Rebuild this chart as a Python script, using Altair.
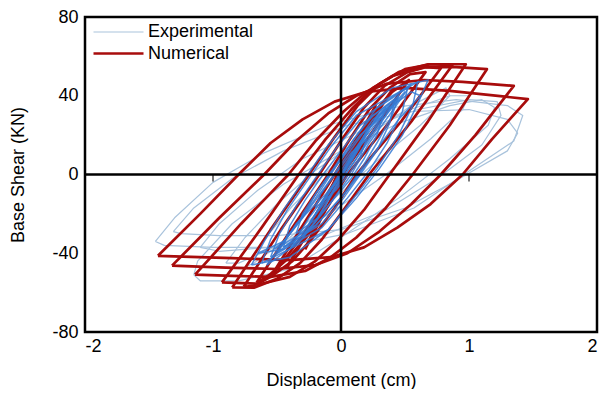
import altair as alt
import pandas as pd

# ---------------- Numerical loops (x = displacement cm, y = base shear kN) ----------------
num_a_x = [-1.43, -1.10, -0.80, -0.55, -0.30, -0.05, 0.20, 0.50, 0.85, 1.46, 1.18, 0.95, 0.70, 0.44, 0.18, -0.08, -0.40, -0.85, -1.43]
num_a_y = [-41.3, -20, 0, 16, 28, 37, 42, 44, 42.5, 38.3, 18, 0, -15, -27, -37, -42, -43.5, -42.5, -41.3]
num_b_x = [-1.32, -0.95, -0.60, -0.35, -0.10, 0.12, 0.35, 0.65, 0.95, 1.35, 1.05, 0.78, 0.55, 0.30, 0.05, -0.20, -0.50, -0.90, -1.32]
num_b_y = [-46.3, -22, 0, 17, 31, 40, 46, 48, 47, 45, 20, 0, -15, -29, -40, -46, -48, -47.3, -46.3]
num_c_x = [-1.14, -0.78, -0.41, -0.20, 0.02, 0.20, 0.40, 0.65, 0.90, 1.14, 0.85, 0.56, 0.35, 0.12, -0.08, -0.28, -0.55, -0.85, -1.14]
num_c_y = [-50.9, -25, 0, 17, 32, 42, 50, 54.5, 54.5, 53.5, 25, 0, -17, -32, -42, -49, -52, -51.5, -50.9]
num_d_x = [-0.93, -0.62, -0.33, -0.12, 0.08, 0.25, 0.45, 0.68, 0.975, 0.68, 0.38, 0.18, -0.02, -0.20, -0.40, -0.62, -0.93]
num_d_y = [-54.8, -27, 0, 18, 33, 44, 52, 56, 56, 27, 0, -18, -33, -44, -52, -55.5, -54.8]
num_e_x = [-0.85, -0.55, -0.25, -0.05, 0.13, 0.30, 0.50, 0.70, 0.87, 0.55, 0.22, 0.02, -0.15, -0.32, -0.50, -0.68, -0.85]
num_e_y = [-57.4, -28, 0, 19, 35, 46, 53.5, 56, 55.5, 27, 0, -18, -33, -45, -53, -57.5, -57.4]
num_f_x = [-0.76, -0.47, -0.17, 0.01, 0.18, 0.34, 0.52, 0.66, 0.78, 0.47, 0.12, -0.05, -0.22, -0.38, -0.55, -0.68, -0.76]
num_f_y = [-57, -28, 0, 18, 34, 45, 52, 54.5, 54, 27, 0, -17, -32, -44, -52, -56.5, -57]
num_g_x = [-0.66, -0.38, -0.10, 0.06, 0.22, 0.38, 0.54, 0.66, 0.37, 0.05, -0.10, -0.26, -0.42, -0.56, -0.66]
num_g_y = [-55, -27, 0, 17, 33, 44, 51, 52, 26, 0, -16, -31, -43, -51, -55]
num_h_x = [-0.55, -0.30, -0.05, 0.10, 0.25, 0.40, 0.53, 0.27, 0.01, -0.14, -0.29, -0.44, -0.55]
num_h_y = [-52, -26, 0, 16, 31, 42, 48, 24, 0, -15, -30, -43, -52]
num_i_x = [-0.42, -0.20, -0.01, 0.13, 0.27, 0.40, 0.18, -0.02, -0.15, -0.29, -0.42]
num_i_y = [-47, -23, 0, 16, 31, 43, 21, 0, -15, -32, -47]
num_j_x = [-0.28, -0.12, 0.02, 0.15, 0.27, 0.10, -0.03, -0.15, -0.28]
num_j_y = [-38, -18, 0, 18, 35, 15, 0, -19, -38]

# ---------------- Experimental: outer (thin light) loops ----------------
exp_1_x = [-1.45, -1.30, -1.00, -0.60, -0.10, 0.40, 0.90, 1.30, 1.42, 1.35, 0.96, 0.57, 0.05, -0.50, -1.00, -1.38, -1.45]
exp_1_y = [-34, -22, -4, 11, 25, 34, 38, 35, 30, 17, 0, -17, -30, -37, -37, -36, -34]
exp_2_x = [-1.31, -1.15, -0.85, -0.45, 0.05, 0.55, 1.00, 1.30, 1.38, 1.30, 0.90, 0.50, 0.00, -0.50, -0.95, -1.25, -1.31]
exp_2_y = [-29, -17, -2, 12, 25, 32, 33, 28, 21, 12, -3, -17, -28, -31, -31, -30, -29]
exp_3_x = [-1.15, -1.12, -0.85, -0.45, 0.00, 0.45, 0.85, 1.10, 1.20, 1.15, 0.85, 0.45, 0.00, -0.40, -0.80, -1.10, -1.15]
exp_3_y = [-51, -44, -25, -5, 12, 26, 35, 38, 34, 25, 8, -12, -32, -48, -54, -54, -51]
exp_4_x = [-1.10, -0.95, -0.65, -0.30, 0.15, 0.60, 1.00, 1.22, 1.25, 1.10, 0.75, 0.35, -0.10, -0.55, -0.95, -1.10]
exp_4_y = [-37, -25, -8, 8, 22, 33, 38, 37, 30, 15, -2, -18, -30, -37, -39, -37]
exp_5_x = [-0.90, -0.75, -0.50, -0.20, 0.15, 0.50, 0.85, 1.00, 0.95, 0.70, 0.35, -0.05, -0.45, -0.80, -0.90]
exp_5_y = [-45, -32, -15, 2, 18, 32, 40, 40, 33, 18, 0, -18, -35, -45, -45]
exp_6_x = [-0.75, -0.60, -0.38, -0.10, 0.22, 0.55, 0.82, 0.85, 0.62, 0.30, -0.05, -0.40, -0.68, -0.75]
exp_6_y = [-47, -33, -16, 2, 20, 35, 44, 40, 25, 8, -12, -32, -45, -47]

# ---------------- Experimental: dense core cycles ----------------
core_1_x = [-0.20, -0.16, -0.08, 0.00, 0.08, 0.20, 0.15, 0.06, -0.04, -0.20]
core_1_y = [-17, -10, -3, 4, 11, 18, 9, 0, -8, -17]
core_2_x = [-0.35, -0.30, -0.20, -0.09, 0.03, 0.15, 0.33, 0.28, 0.18, 0.08, -0.05, -0.18, -0.35]
core_2_y = [-30, -20, -10, 0, 10, 20, 30, 20, 8, -2, -12, -22, -30]
core_3_x = [-0.45, -0.40, -0.28, -0.14, 0.00, 0.15, 0.42, 0.38, 0.28, 0.15, 0.02, -0.15, -0.45]
core_3_y = [-37, -26, -13, 0, 12, 25, 38, 26, 12, 0, -12, -25, -37]
core_4_x = [-0.55, -0.48, -0.35, -0.18, -0.03, 0.15, 0.52, 0.48, 0.36, 0.22, 0.05, -0.15, -0.55]
core_4_y = [-42, -30, -16, 0, 14, 28, 44, 32, 16, 2, -12, -27, -42]
core_5_x = [-0.62, -0.55, -0.42, -0.25, -0.08, 0.12, 0.60, 0.56, 0.45, 0.28, 0.10, -0.10, -0.62]
core_5_y = [-45, -33, -18, -2, 14, 30, 47, 35, 20, 3, -12, -28, -45]
core_6_x = [-0.70, -0.60, -0.45, -0.28, -0.10, 0.12, 0.40, 0.68, 0.60, 0.48, 0.30, 0.12, -0.10, -0.40, -0.70]
core_6_y = [-46, -34, -18, -2, 15, 32, 44, 48, 36, 20, 3, -12, -28, -42, -46]
core_7_x = [-0.50, -0.35, -0.12, 0.00, 0.10, 0.30, 0.50, 0.35, 0.12, 0.00, -0.10, -0.28, -0.50]
core_7_y = [-40, -25, -10, 0, 12, 28, 42, 30, 12, 0, -10, -28, -40]
core_8_x = [-0.40, -0.25, -0.05, 0.05, 0.20, 0.45, 0.30, 0.12, -0.04, -0.20, -0.40]
core_8_y = [-38, -22, -5, 5, 22, 40, 25, 8, -6, -24, -38]
core_9_x = [-0.65, -0.45, -0.30, -0.12, 0.05, 0.25, 0.55, 0.62, 0.45, 0.25, 0.05, -0.20, -0.45, -0.65]
core_9_y = [-40, -34, -22, -6, 10, 28, 42, 40, 28, 10, -8, -26, -38, -40]
core_10_x = [-0.30, -0.18, -0.04, 0.08, 0.22, 0.38, 0.25, 0.10, -0.05, -0.18, -0.30]
core_10_y = [-32, -18, -4, 8, 24, 36, 22, 6, -8, -22, -32]
core_11_x = [-0.58, -0.40, -0.22, -0.08, 0.08, 0.28, 0.55, 0.42, 0.22, 0.08, -0.10, -0.32, -0.58]
core_11_y = [-46, -30, -14, 0, 16, 34, 46, 34, 16, 0, -16, -34, -46]
core_12_x = [-0.15, -0.05, 0.05, 0.15, 0.06, -0.04, -0.15]
core_12_y = [-14, -5, 5, 14, 4, -4, -14]
core_13_x = [-0.52, -0.42, -0.30, -0.20, -0.05, 0.10, 0.25, 0.45, 0.40, 0.28, 0.15, 0.00, -0.20, -0.52]
core_13_y = [-38, -32, -22, -10, 4, 18, 30, 40, 30, 16, 2, -12, -26, -38]
core_14_x = [-0.25, -0.12, 0.00, 0.10, 0.25, 0.35, 0.28, 0.18, 0.05, -0.10, -0.25]
core_14_y = [-25, -12, 2, 12, 26, 34, 30, 18, 4, -12, -25]

x_ticks = [-2, -1, 0, 1, 2]
y_ticks = [-80, -40, 0, 40, 80]
zero_tick_x = [-1, 1]
series_names = ["Experimental", "Numerical"]
series_colors = ["#a9c3dc", "#a80c0c"]
series_widths = [1.2, 2.7]
core_color = "#3479d4"

FONT = "Liberation Sans"


def build(loops, series):
    rows = []
    for name, xs, ys in loops:
        for i, (xv, yv) in enumerate(zip(xs, ys)):
            rows.append({"loop": name, "i": i, "x": xv, "y": yv, "series": series})
    return pd.DataFrame(rows)


num_df = build([
    ("na", num_a_x, num_a_y), ("nb", num_b_x, num_b_y), ("nc", num_c_x, num_c_y),
    ("nd", num_d_x, num_d_y), ("ne", num_e_x, num_e_y), ("nf", num_f_x, num_f_y),
    ("ng", num_g_x, num_g_y), ("nh", num_h_x, num_h_y), ("ni", num_i_x, num_i_y),
    ("nj", num_j_x, num_j_y)], "Numerical")
exp_df = build([
    ("e1", exp_1_x, exp_1_y), ("e2", exp_2_x, exp_2_y), ("e3", exp_3_x, exp_3_y),
    ("e4", exp_4_x, exp_4_y), ("e5", exp_5_x, exp_5_y), ("e6", exp_6_x, exp_6_y)], "Experimental")
core_df = build([
    ("c1", core_1_x, core_1_y), ("c2", core_2_x, core_2_y), ("c3", core_3_x, core_3_y),
    ("c4", core_4_x, core_4_y), ("c5", core_5_x, core_5_y), ("c6", core_6_x, core_6_y),
    ("c7", core_7_x, core_7_y), ("c8", core_8_x, core_8_y), ("c9", core_9_x, core_9_y),
    ("c10", core_10_x, core_10_y), ("c11", core_11_x, core_11_y), ("c12", core_12_x, core_12_y),
    ("c13", core_13_x, core_13_y), ("c14", core_14_x, core_14_y)], "Core")

xscale = alt.Scale(domain=[-2, 2], nice=False, zero=False)
yscale = alt.Scale(domain=[-80, 80], nice=False, zero=False)
x_enc = alt.X("x:Q", scale=xscale,
              axis=alt.Axis(values=x_ticks, title="Displacement (cm)", labelPadding=5,
                            titlePadding=16, labelExpr="'' + datum.value"))
y_enc = alt.Y("y:Q", scale=yscale,
              axis=alt.Axis(values=y_ticks, title="Base Shear (KN)", labelPadding=7,
                            titlePadding=24, labelExpr="'' + datum.value"))

leg = alt.Legend(title=None, orient="none", legendX=22, legendY=4, symbolType="M-2.5,0H2.5",
                 symbolSize=400, labelFontSize=18, labelFont=FONT, labelColor="black",
                 labelOffset=18, rowPadding=1)
color_enc = alt.Color("series:N", scale=alt.Scale(domain=series_names, range=series_colors), legend=leg)
width_enc = alt.StrokeWidth("series:N", scale=alt.Scale(domain=series_names, range=series_widths), legend=leg)

exp_layer = alt.Chart(exp_df).mark_line(strokeJoin="round").encode(
    x=x_enc, y=y_enc, detail="loop:N", order="i:Q", color=color_enc, strokeWidth=width_enc)
core_layer = alt.Chart(core_df).mark_line(color=core_color, strokeWidth=1.5, opacity=0.85).encode(
    x="x:Q", y="y:Q", detail="loop:N", order="i:Q")
num_layer = alt.Chart(num_df).mark_line(strokeJoin="round").encode(
    x="x:Q", y="y:Q", detail="loop:N", order="i:Q", color=color_enc, strokeWidth=width_enc)

vzero = alt.Chart(pd.DataFrame({"x": [0]})).mark_rule(color="black", strokeWidth=2.5).encode(x="x:Q")
hzero = alt.Chart(pd.DataFrame({"y": [0]})).mark_rule(color="black", strokeWidth=2.5).encode(y="y:Q")
ticks = alt.Chart(pd.DataFrame({"x": zero_tick_x})).mark_tick(
    orient="vertical", color="black", thickness=1.5, size=7, yOffset=3.5).encode(
    x="x:Q", y=alt.datum(0))

chart = alt.layer(exp_layer, num_layer, core_layer, vzero, hzero, ticks).properties(
    width=512, height=315, autosize="none",
    padding={"left": 77, "top": 9, "right": 3, "bottom": 57},
).configure_axis(
    grid=False, domain=False, ticks=False, labelFontSize=18, titleFontSize=18,
    labelFont=FONT, titleFont=FONT, labelColor="black", titleColor="black",
    titleFontWeight="normal",
).configure_view(stroke="black", strokeWidth=2.5)

chart.save("out.html", embed_options={"renderer": "svg", "actions": False})
